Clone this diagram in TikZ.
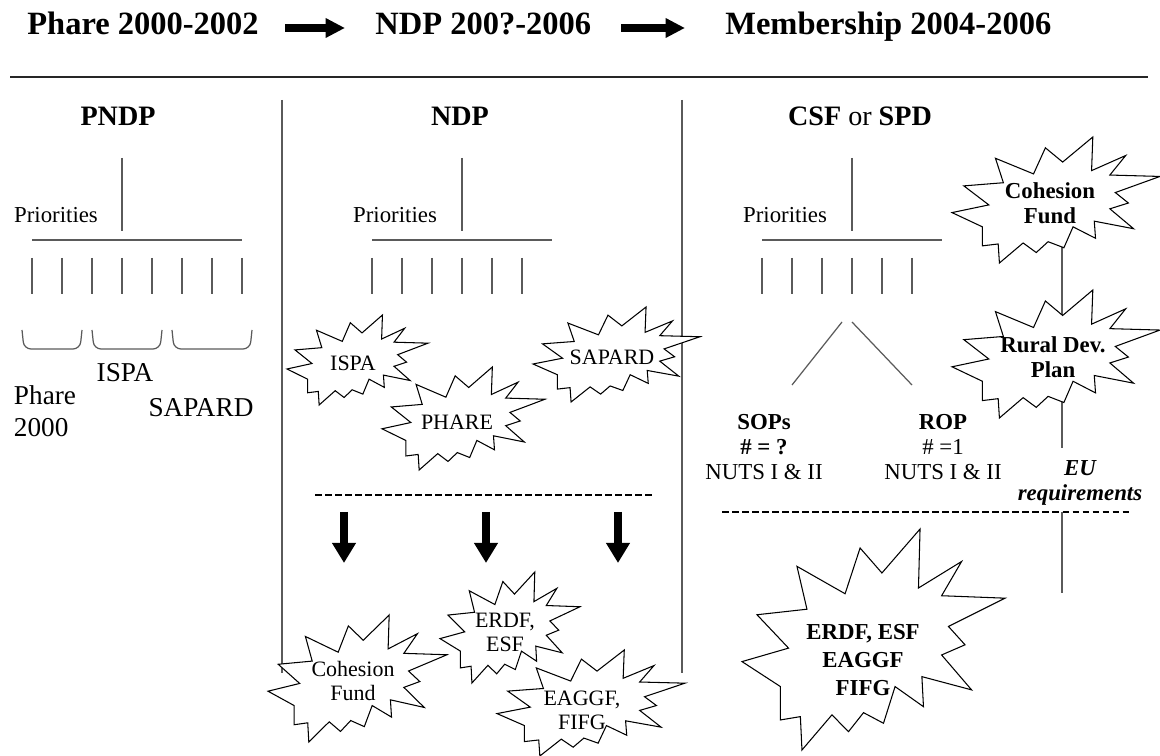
\documentclass[tikz,border=0pt]{standalone}
\usepackage{fontspec}
\setmainfont{Liberation Serif}
\usetikzlibrary{arrows.meta}

\definecolor{linegray}{RGB}{90,90,90}

\tikzset{
  titletext/.style={font=\fontsize{18.5}{21}\selectfont\bfseries, inner sep=0pt, anchor=base west},
  headtext/.style={font=\fontsize{16}{19}\selectfont},
  priotext/.style={font=\fontsize{13}{15}\selectfont},
  fundtext/.style={font=\fontsize{15.5}{18}\selectfont, align=left},
  bursttext/.style={font=\fontsize{12.5}{13.7}\selectfont, align=center},
  boldburst/.style={font=\fontsize{13}{14.2}\selectfont\bfseries, align=center},
  optext/.style={font=\fontsize{13}{14}\selectfont, align=center},
  treeline/.style={draw=linegray, line width=0.7pt},
  burst/.style={draw=black, fill=white, line width=0.6pt},
  titlearrow/.style={line width=4pt, -{Triangle[length=11pt,width=10.5pt]}},
  downarrow/.style={line width=4.5pt, -{Triangle[length=11.5pt,width=13pt]}},
  cutline/.style={dash pattern=on 3.8pt off 1.9pt, line width=1pt}
}

% explosion outline: left, top, width, height
\newcommand{\explosion}[4]{%
  \draw[burst, shift={(#1,#2)}, xscale=#3, yscale=#4]
    (0.677,0) -- (0.671,0.267) -- (0.835,0.147) -- (0.759,0.302) -- (1,0.313)
    -- (0.785,0.441) -- (0.848,0.524) -- (0.759,0.570) -- (0.873,0.728)
    -- (0.684,0.668) -- (0.690,0.804) -- (0.582,0.713) -- (0.538,0.879)
    -- (0.462,0.831) -- (0.405,0.917) -- (0.342,0.841) -- (0.228,1)
    -- (0.222,0.849) -- (0.146,0.864) -- (0.146,0.713) -- (0,0.600)
    -- (0.177,0.539) -- (0.057,0.388) -- (0.247,0.363) -- (0.209,0.169)
    -- (0.392,0.293) -- (0.449,0.086) -- (0.532,0.199) -- cycle;}

\begin{document}
\begin{tikzpicture}[x=0.02cm, y=-0.02cm]
    \useasboundingbox (0,0) rectangle (1160,756);

    % time line
    \node[titletext] (phare) at (27,35) {Phare 2000-2002};
    \node[titletext] (ndp) at (375,35) {NDP 200?-2006};
    \node[titletext] (member) at (725,35) {Membership 2004-2006};
    \draw[titlearrow] ([shift={(26,-7)}]phare.base east) -- ([shift={(-30,-7)}]ndp.base west);
    \draw[titlearrow] ([shift={(30,-7)}]ndp.base east) -- ([shift={(-40,-7)}]member.base west);
    \draw[line width=0.9pt, black!85] (10,77) -- (1148,77);

    % columns
    \draw[treeline] (282,100) -- (282,673);
    \draw[treeline] (682,100) -- (682,673);
    \node[headtext, font=\fontsize{16}{19}\selectfont\bfseries] (pndphead) at (118,116) {PNDP};
    \node[headtext, font=\fontsize{16}{19}\selectfont\bfseries] (ndphead) at (460,116) {NDP};
    \node[headtext] (csfhead) at (860,116) {\textbf{CSF} or \textbf{SPD}};

    % PNDP priorities
    \node[priotext] (prio1) at (56,215) {Priorities};
    \draw[treeline] (122,158) -- (122,231);
    \draw[treeline] (32,240) -- (242,240);
    \foreach \x in {32,62,...,242}
        \draw[treeline] (\x,258) -- (\x,294);
    \foreach \a/\b in {22/82,92/162,172/252}
        \draw[treeline, rounded corners=4pt] (\a,330) -- (\a+2,349) -- (\b-2,349) -- (\b,330);
    \node[fundtext] (phare2000) at (45,411) {Phare\\2000};
    \node[fundtext] (ispa1) at (125,373) {ISPA};
    \node[fundtext] (sapard1) at (201,408) {SAPARD};

    % NDP priorities
    \node[priotext] (prio2) at (395,215) {Priorities};
    \draw[treeline] (462,158) -- (462,231);
    \draw[treeline] (372,240) -- (552,240);
    \foreach \x in {372,402,...,522}
        \draw[treeline] (\x,258) -- (\x,294);

    % CSF priorities
    \node[priotext] (prio3) at (785,215) {Priorities};
    \draw[treeline] (852,158) -- (852,231);
    \draw[treeline] (762,240) -- (942,240);
    \foreach \x in {762,792,...,912}
        \draw[treeline] (\x,258) -- (\x,294);
    \draw[treeline] (842,322) -- (792,385);
    \draw[treeline] (852,322) -- (912,385);
    \node[optext] (sops) at (764,447) {\textbf{SOPs}\\\textbf{\# = ?}\\NUTS I \& II};
    \node[optext] (rop) at (943,447) {\textbf{ROP}\\\# =1\\NUTS I \& II};

    % EU line
    \coordinate (cftop) at (1062,240);
    \coordinate (eutop) at (1062,448);
    \coordinate (cutr) at (1062,512);
    \coordinate (eubot) at (1062,593);
    \draw[treeline] (cftop) -- (eutop);
    \draw[treeline] (cutr) -- (eubot);
    \node[optext, font=\fontsize{13}{14}\selectfont\bfseries\itshape] (eureq) at (1080,483) {EU\\requirements};

    % cut lines and arrows
    \draw[cutline] (315,495) -- (653,495);
    \draw[cutline] (722,512) -- (1130,512);
    \foreach \x in {344,486,618}
        \draw[downarrow] (\x,512) -- (\x,563);

    % NDP programmes
    \explosion{287}{315}{141}{90}
    \node[bursttext] (ispa) at (353,363) {ISPA};
    \explosion{382}{367}{163}{103}
    \node[bursttext] (phareb) at (457,422) {PHARE};
    \explosion{533}{307}{167}{95}
    \node[bursttext] (sapard) at (612,357) {SAPARD};

    % structural funds
    \explosion{268}{615}{179}{127}
    \node[bursttext] (cohesion) at (353,681) {Cohesion\\Fund};
    \explosion{440}{572}{140}{111}
    \node[bursttext] (erdf) at (505,632) {ERDF,\\ESF};
    \explosion{497}{650}{188}{106}
    \node[bursttext] (eaggf) at (582,710) {EAGGF,\\FIFG};

    % membership
    \explosion{952}{137}{208}{126}
    \node[boldburst] (cfund) at (1050,203) {Cohesion\\Fund};
    \explosion{952}{290}{208}{128}
    \node[boldburst] (rdp) at (1053,357) {Rural Dev.\\Plan};
    \explosion{742}{529}{263}{221}
    \node[boldburst, font=\fontsize{13}{16}\selectfont\bfseries] (funds) at (863,660) {ERDF, ESF\\EAGGF\\FIFG};
\end{tikzpicture}
\end{document}
